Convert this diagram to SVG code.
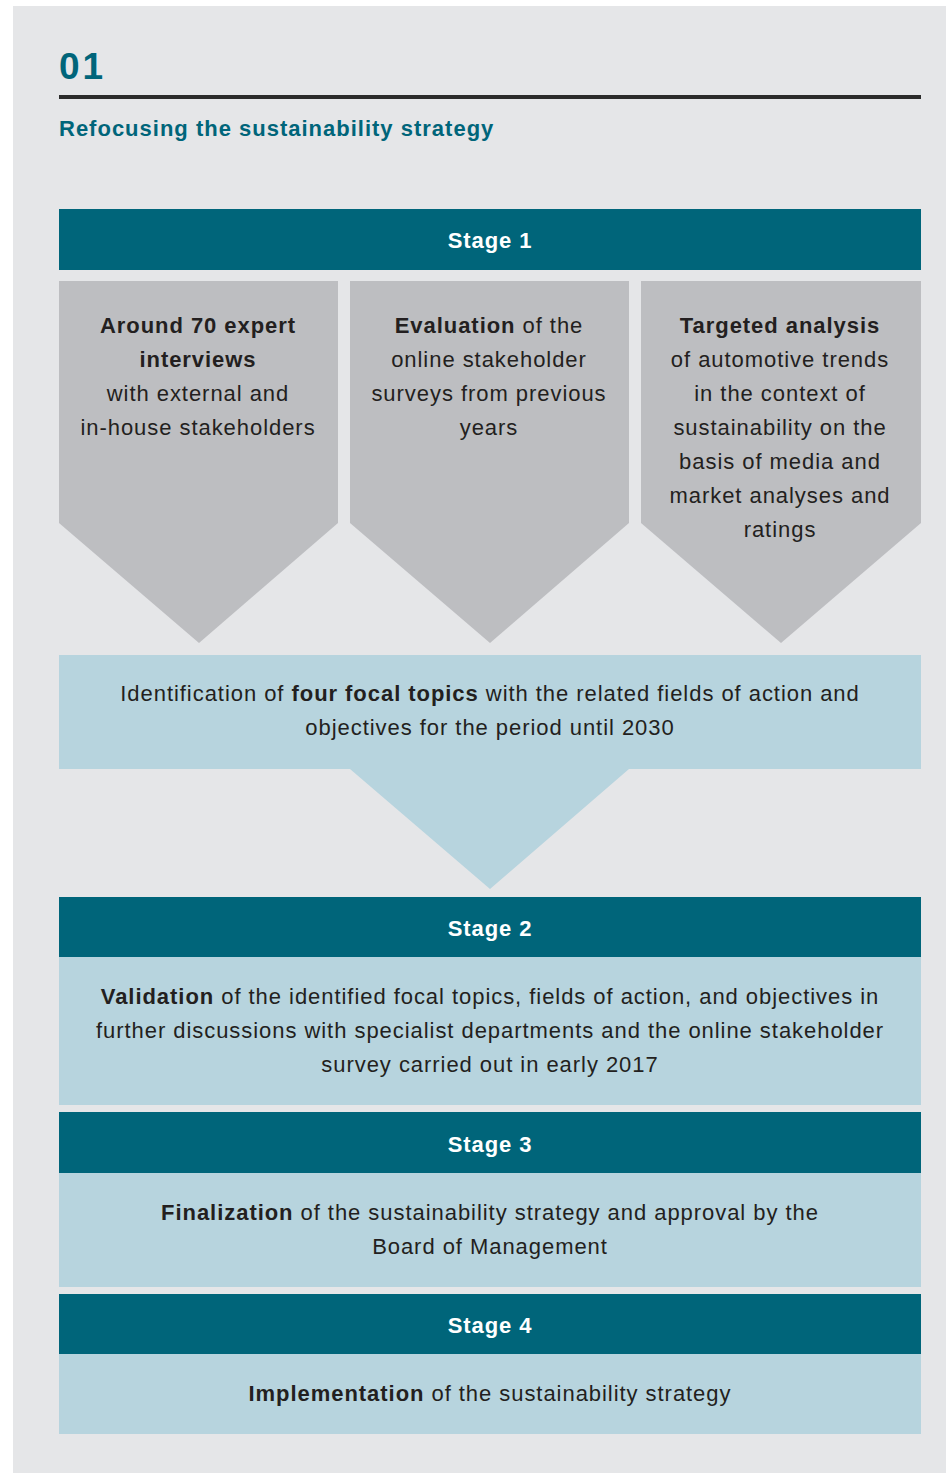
<svg xmlns="http://www.w3.org/2000/svg" width="946" height="1473" viewBox="0 0 946 1473">
<style>
.t{font-family:"Liberation Sans",Arial,sans-serif;font-size:22px;fill:#231f20;text-anchor:middle;letter-spacing:0.95px}
.b{font-weight:bold}
.hd{font-family:"Liberation Sans",Arial,sans-serif;font-size:22px;font-weight:bold;fill:#ffffff;text-anchor:middle;letter-spacing:0.9px}
.teal{fill:#00657a}
.gray{fill:#bdbec1}
.lb{fill:#b7d4de}
</style>
<rect x="0" y="0" width="946" height="1473" fill="#ffffff"/>
<rect x="13" y="6" width="933" height="1467" fill="#e5e6e8"/>
<g id="title">
<text x="59" y="79" font-family="Liberation Sans,Arial,sans-serif" font-size="37" font-weight="bold" fill="#00657a" letter-spacing="3">01</text>
<rect x="59" y="95" width="862" height="4" fill="#2b2b2b"/>
<text x="59" y="136" font-family="Liberation Sans,Arial,sans-serif" font-size="22" font-weight="bold" fill="#00657a" letter-spacing="1">Refocusing the sustainability strategy</text>
</g>
<g id="stage1">
<rect class="teal" x="59" y="209" width="862" height="61"/>
<text class="hd" x="490" y="248">Stage 1</text>
</g>
<g id="col1">
<polygon class="gray" points="59,281 338,281 338,523 199,643 59,523"/>
<text class="t" x="198" y="333"><tspan class="b">Around 70 expert</tspan><tspan class="b" x="198" dy="34">interviews</tspan><tspan x="198" dy="34">with external and</tspan><tspan x="198" dy="34">in-house stakeholders</tspan></text>
</g>
<g id="col2">
<polygon class="gray" points="350,281 629,281 629,523 490,643 350,523"/>
<text class="t" x="489" y="333"><tspan class="b">Evaluation</tspan> of the<tspan x="489" dy="34">online stakeholder</tspan><tspan x="489" dy="34">surveys from previous</tspan><tspan x="489" dy="34">years</tspan></text>
</g>
<g id="col3">
<polygon class="gray" points="641,281 921,281 921,523 781,643 641,523"/>
<text class="t" x="780" y="333"><tspan class="b">Targeted analysis</tspan><tspan x="780" dy="34">of automotive trends</tspan><tspan x="780" dy="34">in the context of</tspan><tspan x="780" dy="34">sustainability on the</tspan><tspan x="780" dy="34">basis of media and</tspan><tspan x="780" dy="34">market analyses and</tspan><tspan x="780" dy="34">ratings</tspan></text>
</g>
<g id="focal">
<polygon class="lb" points="59,655 921,655 921,769 629,769 490,889 350,769 59,769"/>
<text class="t" x="490" y="701">Identification of <tspan class="b">four focal topics</tspan> with the related fields of action and<tspan x="490" dy="34">objectives for the period until 2030</tspan></text>
</g>
<g id="stage2">
<rect class="teal" x="59" y="897" width="862" height="60"/>
<text class="hd" x="490" y="936">Stage 2</text>
<rect class="lb" x="59" y="957" width="862" height="148"/>
<text class="t" x="490" y="1004"><tspan class="b">Validation</tspan> of the identified focal topics, fields of action, and objectives in<tspan x="490" dy="34">further discussions with specialist departments and the online stakeholder</tspan><tspan x="490" dy="34">survey carried out in early 2017</tspan></text>
</g>
<g id="stage3">
<rect class="teal" x="59" y="1112" width="862" height="61"/>
<text class="hd" x="490" y="1152">Stage 3</text>
<rect class="lb" x="59" y="1173" width="862" height="114"/>
<text class="t" x="490" y="1220"><tspan class="b">Finalization</tspan> of the sustainability strategy and approval by the<tspan x="490" dy="34">Board of Management</tspan></text>
</g>
<g id="stage4">
<rect class="teal" x="59" y="1294" width="862" height="60"/>
<text class="hd" x="490" y="1333">Stage 4</text>
<rect class="lb" x="59" y="1354" width="862" height="80"/>
<text class="t" x="490" y="1401"><tspan class="b">Implementation</tspan> of the sustainability strategy</text>
</g>
<g id="connectors"></g>
</svg>
